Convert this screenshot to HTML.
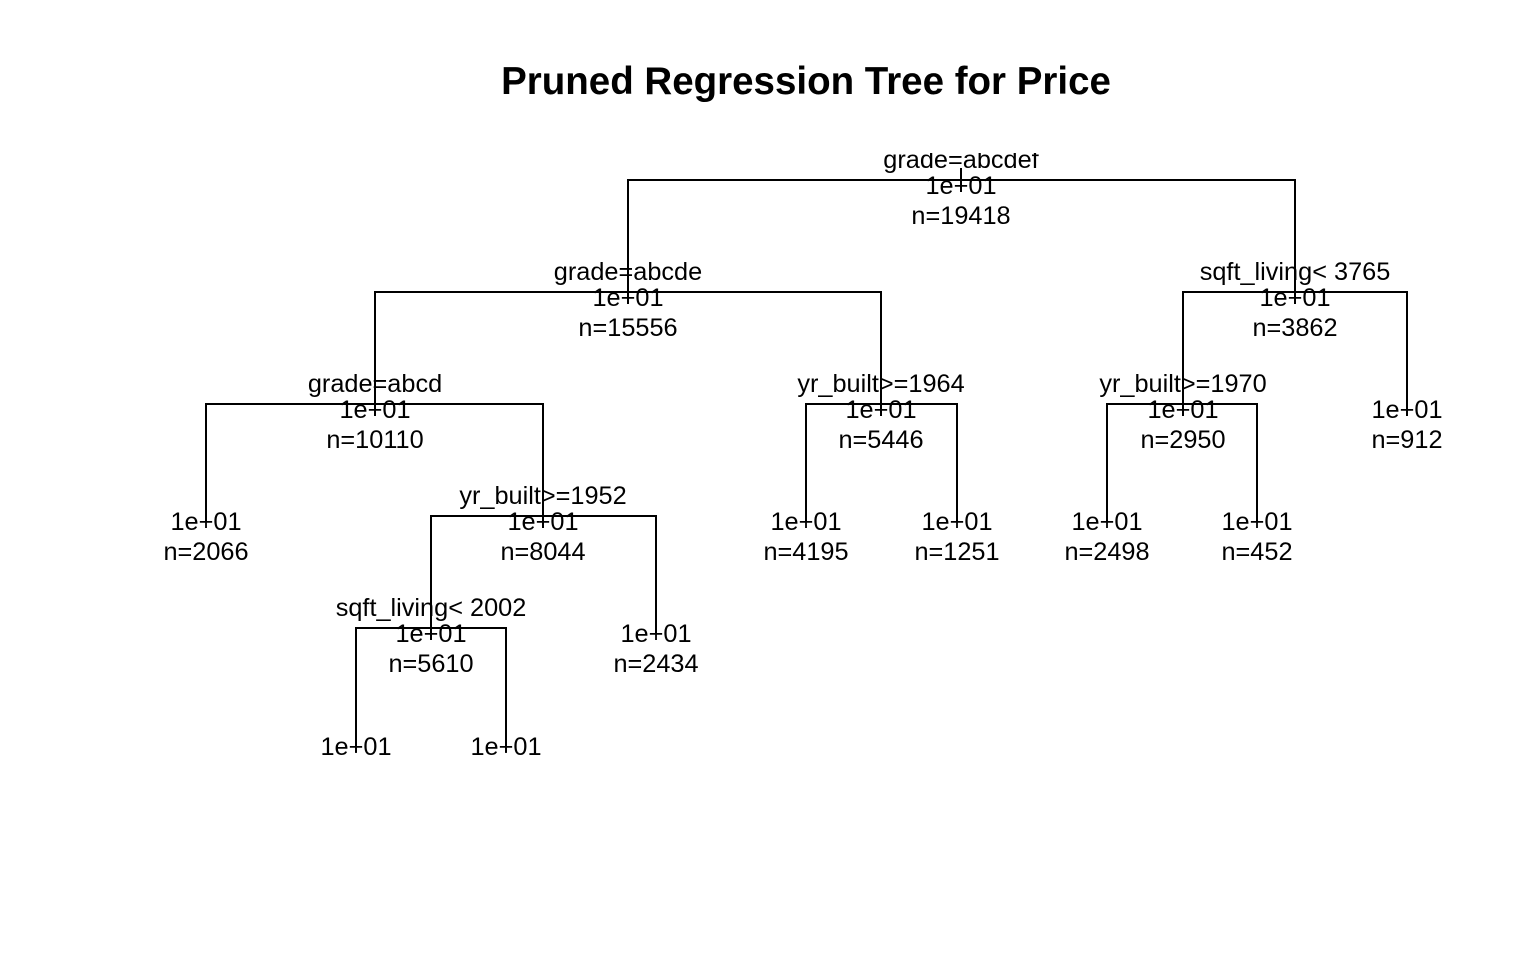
<!DOCTYPE html>
<html><head><meta charset="utf-8"><style>
html,body{margin:0;padding:0;background:#fff}
svg{display:block}
text{font-family:"Liberation Sans",Arial,sans-serif;font-size:25.3px;fill:#000;text-anchor:middle}
</style></head><body>
<svg width="1536" height="960" viewBox="0 0 1536 960" xmlns="http://www.w3.org/2000/svg">
<defs><clipPath id="c"><rect x="0" y="153" width="1536" height="807"/></clipPath></defs>
<text x="806" y="94" style="font-size:38.5px;font-weight:bold">Pruned Regression Tree for Price</text>
<g stroke="#000" stroke-width="2" fill="none">
<line x1="961" y1="168" x2="961" y2="192"/>
<polyline points="628,304 628,180 1295,180 1295,304"/>
<polyline points="375,416 375,292 881,292 881,416"/>
<polyline points="1183,416 1183,292 1407,292 1407,416"/>
<polyline points="206,522 206,404 543,404 543,528"/>
<polyline points="806,522 806,404 957,404 957,522"/>
<polyline points="1107,522 1107,404 1257,404 1257,522"/>
<polyline points="431,640 431,516 656,516 656,634"/>
<polyline points="356,752 356,628 506,628 506,752"/>
</g>
<g clip-path="url(#c)"><text x="961" y="168">grade=abcdef</text></g>
<text x="961" y="194">1e+01</text><text x="961" y="224">n=19418</text>
<text x="628" y="280">grade=abcde</text><text x="628" y="306">1e+01</text><text x="628" y="336">n=15556</text>
<text x="1295" y="280">sqft_living&lt; 3765</text><text x="1295" y="306">1e+01</text><text x="1295" y="336">n=3862</text>
<text x="375" y="392">grade=abcd</text><text x="375" y="418">1e+01</text><text x="375" y="448">n=10110</text>
<text x="881" y="392">yr_built&gt;=1964</text><text x="881" y="418">1e+01</text><text x="881" y="448">n=5446</text>
<text x="1183" y="392">yr_built&gt;=1970</text><text x="1183" y="418">1e+01</text><text x="1183" y="448">n=2950</text>
<text x="1407" y="418">1e+01</text><text x="1407" y="448">n=912</text>
<text x="206" y="530">1e+01</text><text x="206" y="560">n=2066</text>
<text x="543" y="504">yr_built&gt;=1952</text><text x="543" y="530">1e+01</text><text x="543" y="560">n=8044</text>
<text x="806" y="530">1e+01</text><text x="806" y="560">n=4195</text>
<text x="957" y="530">1e+01</text><text x="957" y="560">n=1251</text>
<text x="1107" y="530">1e+01</text><text x="1107" y="560">n=2498</text>
<text x="1257" y="530">1e+01</text><text x="1257" y="560">n=452</text>
<text x="431" y="616">sqft_living&lt; 2002</text><text x="431" y="642">1e+01</text><text x="431" y="672">n=5610</text>
<text x="656" y="642">1e+01</text><text x="656" y="672">n=2434</text>
<text x="356" y="755">1e+01</text><text x="506" y="755">1e+01</text>
</svg>
</body></html>
